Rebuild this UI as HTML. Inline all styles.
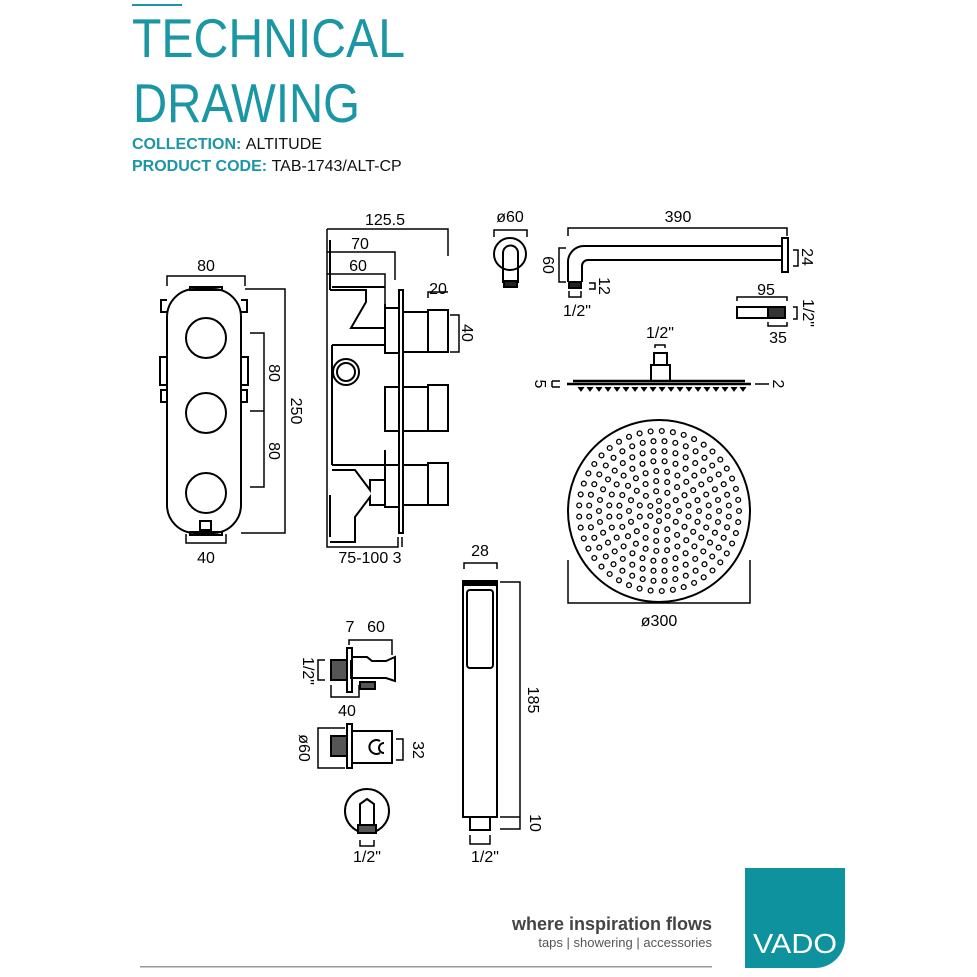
<!DOCTYPE html>
<html><head><meta charset="utf-8"><style>
html,body{margin:0;padding:0;background:#fff;width:977px;height:977px;overflow:hidden}
svg{display:block}
text{font-family:"Liberation Sans",sans-serif}
</style></head><body>
<svg id="s" width="977" height="977" viewBox="0 0 977 977" xmlns="http://www.w3.org/2000/svg">
<rect x="132" y="4" width="50" height="2" fill="#1a96a4"/>
<text x="132" y="57" font-size="55" fill="#1a96a4" textLength="273" lengthAdjust="spacingAndGlyphs">TECHNICAL</text>
<text x="133" y="122" font-size="55" fill="#1a96a4" textLength="227" lengthAdjust="spacingAndGlyphs">DRAWING</text>
<text x="132" y="149" font-size="16" fill="#1a96a4" font-weight="bold">COLLECTION: <tspan fill="#111" font-weight="normal">ALTITUDE</tspan></text>
<text x="132" y="171" font-size="16" fill="#1a96a4" font-weight="bold">PRODUCT CODE: <tspan fill="#111" font-weight="normal">TAB-1743/ALT-CP</tspan></text>

<g fill="none" stroke="#000" stroke-width="2">
<rect x="167" y="289" width="74" height="244" rx="28"/>
<circle cx="206" cy="338" r="20"/><circle cx="206" cy="413" r="20"/><circle cx="206" cy="493" r="20"/>
<rect x="190" y="287" width="32" height="3"/><rect x="190" y="532" width="32" height="3"/>
<rect x="200" y="521" width="11" height="9"/>
<path d="M167 300 h-6 v12 h6 M241 300 h6 v12 h-6 M167 390 h-6 v12 h6 M241 390 h6 v12 h-6 M167 357 h-7 v28 h7 M241 357 h7 v28 h-7"/>
<path d="M167 286 v-10 h78 v10 M245 289 h40 v244 h-44 M250 333 h14 v154 h-14 M250 411 h14 M186 534 v9 h40 v-9" stroke-width="1.5"/>
<path d="M327 229 h121 v27 M327 252 h68 v28 M327 274 h58 v30 M428 298 v-6 h20" stroke-width="1.5"/>
<path d="M327 229 v318 h71 v-10 M402 537 v10" stroke-width="1.5"/>
<path d="M330 290 h36 v12 l-15 26 h34 v-24 M330 290 v-50 M332 287 h53 M332 345 h53 v-30 M332 345 v120 M332 465 h53 v-15 M332 470 h23 l15 20 v-10 h15 v25 h-15 v-8 l-15 20 v25 h-25 M330 495 v42"/>
<rect x="385" y="308" width="14" height="45"/><rect x="385" y="387" width="14" height="44"/><rect x="385" y="465" width="14" height="42"/>
<rect x="399" y="290" width="4" height="243"/>
<rect x="403" y="312" width="25" height="40"/><rect x="428" y="310" width="20" height="42"/>
<rect x="403" y="387" width="25" height="44"/><rect x="428" y="385" width="20" height="46"/>
<rect x="403" y="465" width="25" height="40"/><rect x="428" y="463" width="20" height="42"/>
<circle cx="346" cy="372" r="13"/><circle cx="346" cy="372" r="9"/>
<path d="M450 315 h9 v37 h-9" stroke-width="1.5"/>
<path d="M494 237 v-7 h33 v7" stroke-width="1.5"/>
<circle cx="510" cy="254" r="16"/>
<path d="M503 283 v-30 a7.5 7.5 0 0 1 15 0 v30"/>
<rect x="504" y="281" width="13" height="6" fill="#222"/>
<path d="M568 236 v-8 h219 v8" stroke-width="1.5"/>
<path d="M568 282 v-20 a16 16 0 0 1 16 -16 h198 M582 282 v-16 a6 6 0 0 1 6 -6 h194"/>
<rect x="782" y="238" width="6" height="34"/>
<rect x="569" y="282" width="12" height="6" fill="#222"/>
<path d="M566 248 h-7 v34 h7 M793 250 h5 v16 h-5 M589 283 h6 v6 h-6 M569 291 v6 h12 v-6" stroke-width="1.5"/>
<path d="M737 301 v-4 h50 v4 M768 322 v4 h19 v-4 M793 307 h4 v12 h-4" stroke-width="1.5"/>
<rect x="737" y="307" width="48" height="11"/>
<rect x="768" y="307" width="17" height="11" fill="#333"/>
<path d="M655 348 v-3 h10 v3" stroke-width="1.5"/>
<rect x="654" y="353" width="13" height="12"/><rect x="651" y="365" width="19" height="16"/>
<path d="M567 384 h184 M573 381 h172" stroke-width="2.5"/>
<path d="M552 381 h8 M552 387 h8 M552 381 v6 M755 384 h14" stroke-width="1.5"/>
<circle cx="659" cy="511" r="91"/>
<path d="M568 560 v43 h182 v-43" stroke-width="1.5"/>
<path d="M464 569 v-6 h33 v6 M500 582 h20 v235 M500 817 h20 M520 817 v12 h-20 M470 835 v9 h20 v-9" stroke-width="1.5"/>
<rect x="463" y="583" width="34" height="234"/>
<rect x="463" y="581" width="34" height="4" fill="#000"/>
<rect x="467" y="590" width="26" height="78" rx="3"/>
<rect x="470" y="817" width="20" height="13"/>
<path d="M349 645 v-5 h43 v15 M325 660 h-7 v20 h7 M331 685 v12 h28 v-12" stroke-width="1.5"/>
<rect x="347" y="648" width="5" height="44"/>
<rect x="331" y="660" width="16" height="20" fill="#555"/>
<path d="M352 657 h15 l5 4 h14 l9 -4 v24 l-9 -3 h-35 v-18"/>
<rect x="360" y="682" width="15" height="7" fill="#555"/>
<path d="M345 728 h-27 v40 h27 M396 739 h7 v21 h-7" stroke-width="1.5"/>
<rect x="347" y="724" width="5" height="44"/>
<rect x="331" y="736" width="16" height="20" fill="#555"/>
<rect x="352" y="731" width="40" height="32"/>
<path d="M380 741 a7 7 0 1 0 0 12 M384 743 a5 5 0 1 0 0 10"/>
<circle cx="367" cy="811" r="22"/>
<path d="M360 826 v-22 l7 -5 l7 5 v22"/>
<rect x="358" y="825" width="18" height="8" fill="#555"/>
<path d="M360 840 v6 h14 v-6" stroke-width="1.5"/>
</g>
<g fill="#000" font-size="16" text-anchor="middle">
<text x="206" y="271">80</text>
<text x="206" y="563">40</text>
<text transform="translate(291,411) rotate(90)">250</text>
<text transform="translate(269,373) rotate(90)">80</text>
<text transform="translate(269,451) rotate(90)">80</text>
<text x="385" y="225">125.5</text>
<text x="360" y="249">70</text>
<text x="358" y="271">60</text>
<text x="438" y="294">20</text>
<text transform="translate(462,333) rotate(90)">40</text>
<text x="370" y="563">75-100 3</text>
<text x="510" y="222">ø60</text>
<text x="678" y="222">390</text>
<text transform="translate(543,265) rotate(90)">60</text>
<text transform="translate(802,257) rotate(90)">24</text>
<text transform="translate(599,286) rotate(90)">12</text>
<text x="577" y="316">1/2"</text>
<text x="766" y="295">95</text>
<text transform="translate(803,313) rotate(90)">1/2"</text>
<text x="778" y="343">35</text>
<text x="660" y="338">1/2"</text>
<text transform="translate(535,384) rotate(90)">5</text>
<text transform="translate(773,384) rotate(90)">2</text>
<text x="659" y="626">ø300</text>
<text x="480" y="556">28</text>
<text transform="translate(528,700) rotate(90)">185</text>
<text transform="translate(530,823) rotate(90)">10</text>
<text x="485" y="862">1/2"</text>
<text x="350" y="632">7</text>
<text x="376" y="632">60</text>
<text transform="translate(303,671) rotate(90)">1/2"</text>
<text x="347" y="716">40</text>
<text transform="translate(299,748) rotate(90)">ø60</text>
<text transform="translate(413,750) rotate(90)">32</text>
<text x="367" y="862">1/2"</text>
</g>
<g id="dots" fill="none" stroke="#000" stroke-width="1.3"></g>
<text x="712" y="930" font-size="18" font-weight="bold" fill="#444" text-anchor="end">where inspiration flows</text>
<text x="712" y="947" font-size="13" fill="#555" text-anchor="end">taps | showering | accessories</text>
<rect x="140" y="966" width="572" height="1.5" fill="#999"/>
<path d="M745 868 h100 v70 a30 30 0 0 1 -30 30 h-70 z" fill="#0e929d"/>
<text x="795" y="953" font-size="28" fill="#fff" text-anchor="middle" textLength="84" lengthAdjust="spacingAndGlyphs">VADO</text>
</svg>
<script>
var g=document.getElementById('dots'),ns='http://www.w3.org/2000/svg',h='';
var rings=[[0,1],[10,6],[20,11],[30,17],[40,23],[50,28],[60,34],[70,40],[80,45]];
rings.forEach(function(r){for(var i=0;i<r[1];i++){var a=2*Math.PI*(i+0.5*(r[0]%20?1:0))/r[1];h+='<circle cx="'+(659+r[0]*Math.cos(a)).toFixed(1)+'" cy="'+(511+r[0]*Math.sin(a)).toFixed(1)+'" r="2.4"/>';}});
g.innerHTML=h;
var t='';for(var x=578;x<=742;x+=9){t+='M'+x+' 387 l3 4 l3 -4 ';}
var p=document.createElementNS(ns,'path');p.setAttribute('d',t);p.setAttribute('fill','#000');p.setAttribute('stroke','#000');document.getElementById('s').appendChild(p);
</script>
</body></html>
